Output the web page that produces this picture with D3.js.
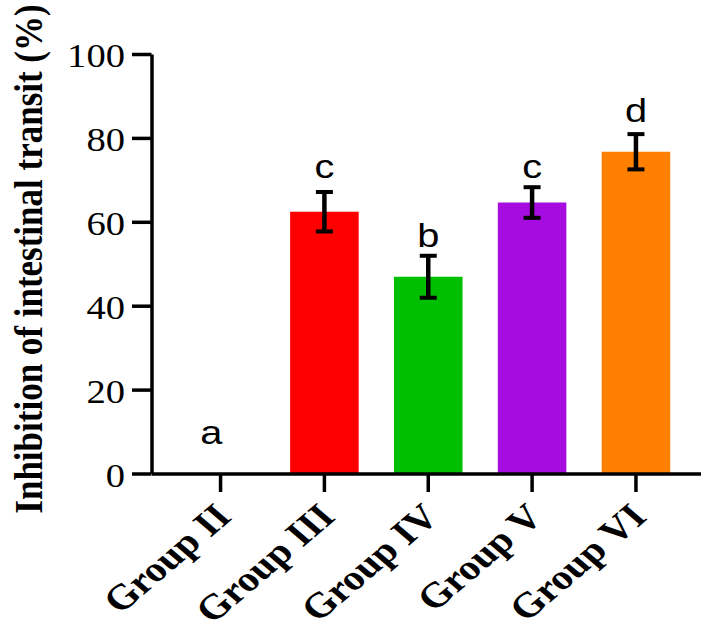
<!DOCTYPE html>
<html>
<head>
<meta charset="utf-8">
<script src="https://cdn.jsdelivr.net/npm/d3@7"></script>
<style>
  html, body { margin: 0; padding: 0; background: #fff; }
  svg { display: block; }
</style>
</head>
<body>
<svg id="chart" width="701" height="621"></svg>
<script>
const groups = ["Group II", "Group III", "Group IV", "Group V", "Group VI"];
const means = [0, 62.4, 46.9, 64.6, 76.7];
const errors = [0, 4.7, 5.0, 3.65, 4.2];
const letters = ["a", "c", "b", "c", "d"];
const letterValues = [7.0, 70.5, 54.0, 70.5, 83.8];
const colors = ["#ffffff", "#ff0000", "#00bf00", "#a60ce0", "#ff8000"];
const yTicks = [0, 20, 40, 60, 80, 100];
const yTitle = "Inhibition of intestinal transit (%)";

const SX = 1.17; // horizontal stretch of the original figure's text
const svg = d3.select("#chart");

const x = d3.scaleBand().domain(groups).range([151.5, 705]).paddingInner(0.34).paddingOuter(0.335);
const y = d3.scaleLinear().domain([0, 100]).range([473.5, 54]);

const data = groups.map((g, i) => ({ g, m: means[i], e: errors[i], l: letters[i], lv: letterValues[i], c: colors[i] }));

// bars
svg.append("g").selectAll("rect").data(data.filter(d => d.m > 0)).join("rect")
  .attr("x", d => x(d.g))
  .attr("width", x.bandwidth())
  .attr("y", d => y(d.m))
  .attr("height", d => y(0) - y(d.m))
  .attr("fill", d => d.c);

// error bars
const eb = svg.append("g").attr("stroke", "#000");
const ebd = data.filter(d => d.e > 0);
eb.selectAll("line.v").data(ebd).join("line").attr("class", "v")
  .attr("x1", d => x(d.g) + x.bandwidth() / 2).attr("x2", d => x(d.g) + x.bandwidth() / 2)
  .attr("y1", d => y(d.m + d.e)).attr("y2", d => y(d.m - d.e))
  .attr("stroke-width", 4.5);
["top", "bot"].forEach(k => {
  eb.selectAll("line." + k).data(ebd).join("line").attr("class", k)
    .attr("x1", d => x(d.g) + x.bandwidth() / 2 - 8.5).attr("x2", d => x(d.g) + x.bandwidth() / 2 + 8.5)
    .attr("y1", d => y(k === "top" ? d.m + d.e : d.m - d.e)).attr("y2", d => y(k === "top" ? d.m + d.e : d.m - d.e))
    .attr("stroke-width", 4);
});

// significance letters
svg.append("g").selectAll("text").data(data).join("text")
  .attr("transform", d => `translate(${x(d.g) + x.bandwidth() / 2},${y(d.lv)}) scale(${SX},1)`)
  .attr("dx", (d, i) => i === 0 ? -8 : 0)
  .attr("text-anchor", "middle")
  .attr("font-family", "'Liberation Sans', Arial, sans-serif")
  .attr("font-size", 34)
  .attr("fill", "#000")
  .text(d => d.l);

// x axis
const xAxis = svg.append("g").attr("transform", `translate(0,${y(0)})`)
  .call(d3.axisBottom(x).tickSize(18.5).tickSizeOuter(0));
xAxis.select(".domain").attr("stroke-width", 3.5);
xAxis.selectAll(".tick line").attr("stroke-width", 3.5);
xAxis.selectAll(".tick text")
  .attr("x", null).attr("y", null).attr("dy", null)
  .attr("text-anchor", "end")
  .attr("transform", `translate(12.5,45) scale(${SX},1) rotate(-45)`)
  .attr("font-family", "'Liberation Serif', 'Times New Roman', serif")
  .attr("font-weight", "bold")
  .attr("font-size", 35.5)
  .attr("fill", "#000");

// y axis
const yAxis = svg.append("g").attr("transform", `translate(151.5,0)`)
  .call(d3.axisLeft(y).tickValues(yTicks).tickSize(19.5).tickSizeOuter(0).tickPadding(7));
yAxis.select(".domain").attr("stroke-width", 3.5);
yAxis.selectAll(".tick line").attr("stroke-width", 3.5);
yAxis.selectAll(".tick text")
  .attr("x", null).attr("dy", null)
  .attr("transform", `translate(-26.5,12.5) scale(${SX},1)`)
  .attr("font-family", "'Liberation Serif', 'Times New Roman', serif")
  .attr("font-size", 33)
  .attr("fill", "#000");

// y title
svg.append("text")
  .attr("transform", `translate(42,259) scale(${SX},1) rotate(-90)`)
  .attr("text-anchor", "middle")
  .attr("font-family", "'Liberation Serif', 'Times New Roman', serif")
  .attr("font-weight", "bold")
  .attr("font-size", 35)
  .attr("fill", "#000")
  .text(yTitle);
</script>
</body>
</html>
